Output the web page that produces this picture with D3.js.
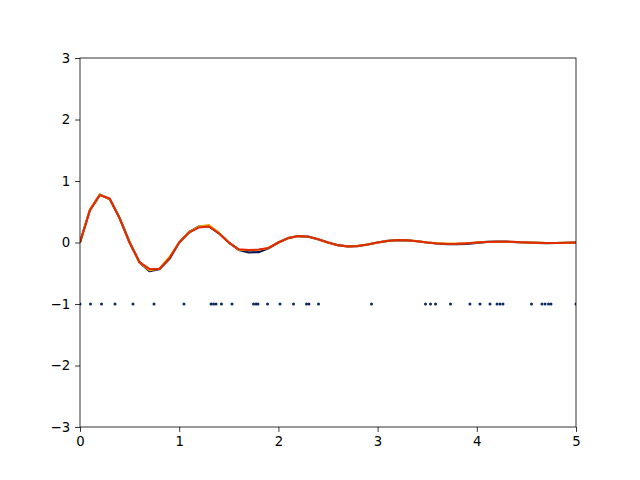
<!DOCTYPE html>
<html><head><meta charset="utf-8">
<script src="https://cdn.jsdelivr.net/npm/d3@7"></script>
<style>body{margin:0;background:#fff}svg{display:block}text{font-family:"DejaVu Sans",sans-serif}</style>
</head><body>
<svg id="c" width="640" height="480"></svg>
<script>
// sample positions (dots at y=-1)
const sampleX = [0, 0.106, 0.217, 0.353, 0.534, 0.746, 1.048, 1.321, 1.346, 1.371, 1.426, 1.532, 1.749, 1.774, 1.794, 1.890, 2.016, 2.152, 2.283, 2.308, 2.404, 2.938, 3.483, 3.533, 3.584, 3.735, 3.931, 4.032, 4.133, 4.204, 4.234, 4.264, 4.551, 4.657, 4.688, 4.723, 4.748, 5.0];
// regular grid
const gridX = [0,0.1,0.2,0.3,0.4,0.5,0.6,0.7,0.8,0.9,1.0,1.1,1.2,1.3,1.4,1.5,1.6,1.7,1.8,1.9,2.0,2.1,2.2,2.3,2.4,2.5,2.6,2.7,2.8,2.9,3.0,3.1,3.2,3.3,3.4,3.5,3.6,3.7,3.8,3.9,4.0,4.1,4.2,4.3,4.4,4.5,4.6,4.7,4.8,4.9,5.0];
const darkY = [0,0.532,0.779,0.705,0.394,0,-0.323,-0.465,-0.435,-0.270,0,0.170,0.260,0.262,0.150,0,-0.119,-0.160,-0.157,-0.095,0,0.072,0.105,0.095,0.053,0,-0.044,-0.064,-0.058,-0.032,0,0.026,0.039,0.035,0.020,0,-0.016,-0.025,-0.028,-0.022,-0.005,0.010,0.014,0.013,0.007,0,-0.006,-0.009,-0.008,-0.004,0];
const orangeY = [0,0.532,0.779,0.705,0.394,0,-0.323,-0.45,-0.427,-0.239,0,0.170,0.260,0.285,0.160,0,-0.119,-0.125,-0.120,-0.088,0,0.072,0.105,0.095,0.053,0,-0.044,-0.064,-0.058,-0.032,0,0.026,0.039,0.035,0.020,0,-0.010,-0.015,-0.018,-0.012,0,0.010,0.014,0.013,0.007,0,-0.006,-0.009,-0.008,-0.004,0];
const redY = [0,0.520,0.770,0.715,0.394,0,-0.320,-0.430,-0.430,-0.260,0,0.160,0.245,0.260,0.150,0,-0.110,-0.120,-0.115,-0.088,0,0.072,0.105,0.095,0.053,0,-0.044,-0.064,-0.058,-0.032,0,0.026,0.039,0.035,0.020,0,-0.016,-0.023,-0.021,-0.012,0,0.010,0.014,0.013,0.007,0,-0.006,-0.009,-0.008,-0.004,0];
const dotY = -1;
const xTicks = [0,1,2,3,4,5];
const yTicks = [-3,-2,-1,0,1,2,3];

const svg = d3.select("#c");
const L=80, R=576, T=58, B=427;
const x = d3.scaleLinear().domain([0,5]).range([L,R]);
const y = d3.scaleLinear().domain([-3,3]).range([B,T]);
const fmt = d => d<0 ? "\u2212"+Math.abs(d) : String(d);

const plot = svg.append("g");
plot.append("defs").append("clipPath").attr("id","clip").append("rect")
  .attr("x",L).attr("y",T).attr("width",R-L).attr("height",B-T);
const g = plot.append("g").attr("clip-path","url(#clip)");

const line = d3.line().x(d=>x(d[0])).y(d=>y(d[1]));
g.append("path").datum(gridX.map((v,i)=>[v,darkY[i]]))
  .attr("d",line).attr("fill","none").attr("stroke","#0a1a50").attr("stroke-width",2.2).attr("stroke-linejoin","round");
g.append("path").datum(gridX.map((v,i)=>[v,orangeY[i]]))
  .attr("d",line).attr("fill","none").attr("stroke","#eda000").attr("stroke-width",2).attr("stroke-linejoin","round");
g.append("path").datum(gridX.map((v,i)=>[v,redY[i]]))
  .attr("d",line).attr("fill","none").attr("stroke","#e02a00").attr("stroke-width",2).attr("stroke-linejoin","round");
g.selectAll("circle").data(sampleX).enter().append("circle")
  .attr("cx",d=>x(d)).attr("cy",y(dotY)).attr("r",1.5).attr("fill","#0a2a60");

const xa = svg.append("g").attr("transform",`translate(0,${B})`)
  .call(d3.axisBottom(x).tickValues(xTicks).tickFormat(fmt).tickSize(4.9).tickPadding(4.9));
const ya = svg.append("g").attr("transform",`translate(${L},0)`)
  .call(d3.axisLeft(y).tickValues(yTicks).tickFormat(fmt).tickSize(4.9).tickPadding(4.9));
[xa,ya].forEach(a=>{
  a.select(".domain").remove();
  a.selectAll("line").attr("stroke","#000").attr("stroke-width",0.8);
  a.selectAll("text").attr("font-size","13.3px").attr("fill","#000").style("font-family","DejaVu Sans");
});
svg.append("rect").attr("x",L).attr("y",T).attr("width",R-L).attr("height",B-T)
  .attr("fill","none").attr("stroke","#000").attr("stroke-width",0.8);
</script>
</body></html>
